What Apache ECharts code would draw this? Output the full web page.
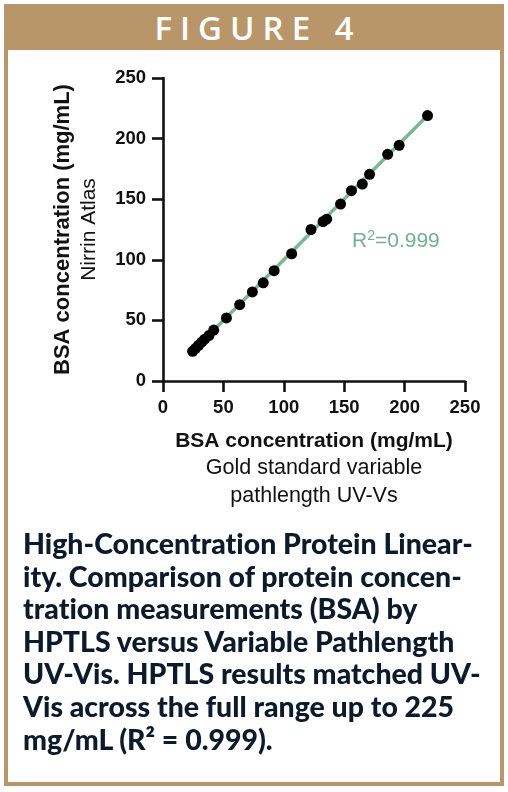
<!DOCTYPE html>
<html>
<head>
<meta charset="utf-8">
<script src="https://cdn.jsdelivr.net/npm/echarts@6/dist/echarts.min.js"></script>
<style>
  html, body { margin: 0; padding: 0; background: #ffffff; }
  body { width: 508px; height: 792px; position: relative; overflow: hidden; }
  #frame { position: absolute; left: 4px; top: 4px; width: 492px; height: 774px; border: 4px solid #b9966a; box-sizing: content-box; }
  #header { position: absolute; left: 4px; top: 4px; width: 500px; height: 46px; background: #b9966a; color: #ffffff;
            font-family: 'Open Sans', 'Lato', sans-serif; font-weight: 600; font-size: 33px; line-height: 48px;
            letter-spacing: 8px; text-align: center; padding-left: 8px; box-sizing: border-box; }
  #chart { position: absolute; left: 0; top: 0; width: 508px; height: 792px; }
  #caption { position: absolute; left: 23px; top: 527px; width: 480px; font-family: 'Lato', sans-serif; font-weight: 900;
             font-size: 23px; line-height: 32.6px; color: #0c1a2b; white-space: nowrap;
             font-variant-ligatures: none; font-feature-settings: "liga" 0, "clig" 0; }
</style>
</head>
<body>
<div id="frame"></div>
<div id="header">FIGURE 4</div>
<div id="chart"></div>
<div id="caption">
  <div class="ln">High-Concentration Protein Linear-</div>
  <div class="ln">ity. Comparison of protein concen-</div>
  <div class="ln">tration measurements (BSA) by</div>
  <div class="ln">HPTLS versus Variable Pathlength</div>
  <div class="ln">UV-Vis. HPTLS results matched UV-</div>
  <div class="ln">Vis across the full range up to 225</div>
  <div class="ln">mg/mL (R² = 0.999).</div>
</div>
<script>
const goldStandardUVVis = [24.5, 27, 29.5, 32, 34.5, 38, 42, 52.5, 63.5, 74, 83, 92, 106.5, 122.5, 132.5, 135.5, 147, 156, 165, 171, 186, 195.5, 219];
const nirrinAtlas      = [24.5, 27, 29.5, 32, 34.5, 37.5, 42, 52, 63, 73.5, 81, 91, 105, 125, 131.5, 133.5, 146, 157, 162.5, 170.5, 187, 194.5, 219];
// Fit line endpoints
const fitX = [23.5, 219];
const fitY = [23.5, 219];
const axisTicks = [0, 50, 100, 150, 200, 250];
const r2Text = '0.999';

// Fit caption font to the reference line width
(function () {
  const cap = document.getElementById('caption');
  const first = cap.querySelector('.ln');
  const span = document.createElement('span');
  span.textContent = first.textContent;
  first.textContent = '';
  first.appendChild(span);
  const w = span.getBoundingClientRect().width;
  const target = 450;
  const fs = 23 * target / w;
  cap.style.fontSize = fs.toFixed(2) + 'px';
})();

const chart = echarts.init(document.getElementById('chart'), null, { renderer: 'canvas' });
const points = goldStandardUVVis.map((x, i) => [x, nirrinAtlas[i]]);
const fitLine = fitX.map((x, i) => [x, fitY[i]]);
const tickFont = { fontFamily: "'Liberation Sans', Arial, sans-serif", fontWeight: 'bold', fontSize: 18.5, color: '#111111' };

chart.setOption({
  backgroundColor: 'transparent',
  animation: false,
  grid: { left: 163, top: 78, right: 43, bottom: 411, containLabel: false },
  xAxis: {
    type: 'value', min: axisTicks[0], max: axisTicks[axisTicks.length - 1], interval: 50,
    splitLine: { show: false },
    axisLine: { show: true, onZero: false, lineStyle: { color: '#111111', width: 2.6 } },
    axisTick: { show: true, length: 11, lineStyle: { color: '#111111', width: 2.6 } },
    axisLabel: Object.assign({ margin: 17 }, tickFont),
    name: '{b|BSA concentration (mg/mL)}\n{r|Gold standard variable}\n{r|pathlength UV-Vs}',
    nameLocation: 'middle',
    nameGap: 46,
    nameTextStyle: {
      rich: {
        b: { fontFamily: "'Liberation Sans', Arial, sans-serif", fontWeight: 'bold', fontSize: 21, color: '#111111', lineHeight: 27.5 },
        r: { fontFamily: "'Liberation Sans', Arial, sans-serif", fontWeight: 'normal', fontSize: 21.5, color: '#111111', lineHeight: 27.5 }
      }
    }
  },
  yAxis: {
    type: 'value', min: axisTicks[0], max: axisTicks[axisTicks.length - 1], interval: 50,
    splitLine: { show: false },
    axisLine: { show: true, onZero: false, lineStyle: { color: '#111111', width: 2.6 } },
    axisTick: { show: true, length: 11, lineStyle: { color: '#111111', width: 2.6 } },
    axisLabel: Object.assign({ margin: 17 }, tickFont),
    name: '{b|BSA concentration (mg/mL)}\n{r|Nirrin Atlas}',
    nameLocation: 'middle',
    nameRotate: 90,
    nameGap: 60,
    nameTextStyle: {
      rich: {
        b: { fontFamily: "'Liberation Sans', Arial, sans-serif", fontWeight: 'bold', fontSize: 22, color: '#111111', lineHeight: 27 },
        r: { fontFamily: "'Liberation Sans', Arial, sans-serif", fontWeight: 'normal', fontSize: 21, color: '#111111', lineHeight: 27 }
      }
    }
  },
  series: [
    {
      type: 'line', data: fitLine, symbol: 'none', z: 1,
      lineStyle: { color: '#7ab894', width: 3.5 }
    },
    {
      type: 'scatter', data: points, symbol: 'circle', symbolSize: 11, z: 2,
      itemStyle: { color: '#000000', opacity: 1 }
    }
  ],
  graphic: [
    {
      type: 'text', left: 352, top: 229, z: 10,
      style: {
        text: '{a|R}{s|2}{a|=' + r2Text + '}',
        rich: {
          a: { fontFamily: "'Liberation Sans', Arial, sans-serif", fontSize: 21, fill: '#74b08f', lineHeight: 24 },
          s: { fontFamily: "'Liberation Sans', Arial, sans-serif", fontSize: 14, fill: '#74b08f', lineHeight: 24, verticalAlign: 'top' }
        }
      }
    }
  ]
});
</script>
</body>
</html>
